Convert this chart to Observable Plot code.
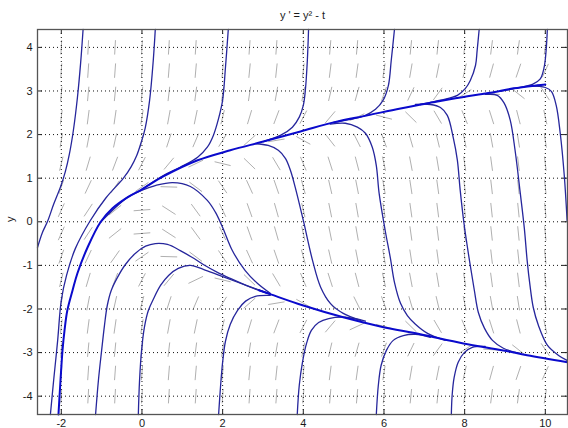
<!DOCTYPE html>
<html><head><meta charset="utf-8">
<script src="https://cdn.jsdelivr.net/npm/d3@7"></script>
<script src="https://cdn.jsdelivr.net/npm/@observablehq/plot@0.6"></script>
<style>body{margin:0;background:#fff}</style>
</head><body><div id="chart"></div>
<script>
// ---- axis / labels ----
const titleText = "y ' = y\u00B2 - t";
const yLabel = "y";
const xTicks = [-2, 0, 2, 4, 6, 8, 10];
const yTicks = [-4, -3, -2, -1, 0, 1, 2, 3, 4];
const xDomain = [-2.59, 10.55];
const yDomain = [-4.42, 4.41];

// ---- direction-field grid (t, y) ----
const fieldT = [-2, -1.333, -0.667, 0, 0.667, 1.333, 2, 2.667, 3.333, 4, 4.667, 5.333, 6, 6.667, 7.333, 8, 8.667, 9.333, 10];
const fieldY = [-4, -3.467, -2.933, -2.4, -1.867, -1.333, -0.8, -0.267, 0.267, 0.8, 1.333, 1.867, 2.4, 2.933, 3.467, 4];

// ---- solution curves, [t, y] ----
const curveA = [[-2.59,-0.59],[-2.47,-0.25],[-2.34,0.01],[-2.19,0.40],[-2.02,0.80],[-1.90,1.15],[-1.80,1.55],[-1.70,2.10],[-1.60,2.85],[-1.52,3.65],[-1.46,4.41]];
const curveB = [[0.33,4.41],[0.28,3.70],[0.19,2.79],[0.08,2.15],[-0.02,1.82],[-0.13,1.52],[-0.27,1.26],[-0.46,1.00],[-0.90,0.54],[-1.28,0.03],[-1.65,-0.61],[-1.87,-1.23],[-2.00,-1.80],[-2.09,-2.72],[-2.19,-3.64],[-2.27,-4.42]];
const upperBranch = [[-2.07,-4.42],[-2.02,-3.64],[-1.97,-2.95],[-1.92,-2.49],[-1.85,-2.03],[-1.72,-1.57],[-1.60,-1.18],[-1.35,-0.59],[-1.03,-0.01],[-0.73,0.31],[-0.36,0.56],[-0.01,0.74],[0.53,1.04],[1.38,1.41],[2.19,1.64],[3.01,1.84],[3.93,2.07],[4.75,2.28],[5.59,2.44],[6.41,2.60],[7.22,2.74],[8.07,2.88],[8.64,2.96],[9.21,3.06],[9.80,3.13],[10.0,3.15]];
const upTo228 = [[-0.01,0.74],[0.53,1.06],[0.95,1.25],[1.38,1.48],[1.62,1.71],[1.77,1.98],[1.90,2.37],[2.00,2.79],[2.07,3.54],[2.14,4.41]];
const upTo308 = [[3.01,1.84],[3.43,1.98],[3.73,2.17],[3.90,2.40],[4.00,2.67],[4.05,3.01],[4.10,3.70],[4.13,4.41]];
const upTo395 = [[4.75,2.28],[5.17,2.35],[5.49,2.42],[5.79,2.58],[5.98,2.79],[6.11,3.13],[6.18,3.70],[6.26,4.41]];
const upTo479 = [[6.90,2.69],[7.40,2.79],[7.82,2.90],[8.02,3.06],[8.14,3.24],[8.27,3.59],[8.31,3.93],[8.36,4.41]];
const upTo547 = [[8.88,2.99],[9.38,3.08],[9.68,3.15],[9.87,3.27],[9.97,3.54],[10.02,3.93],[10.05,4.41]];
const peakHigh = [[-1.03,-0.01],[-0.36,0.56],[-0.01,0.72],[0.33,0.83],[0.76,0.90],[1.20,0.81],[1.62,0.49],[1.82,0.22],[2.00,-0.13],[2.24,-0.66],[2.56,-1.12],[2.86,-1.41],[3.18,-1.64]];
const peakMid = [[-1.15,-4.42],[-1.08,-3.64],[-1.00,-2.95],[-0.93,-2.38],[-0.86,-1.92],[-0.76,-1.57],[-0.61,-1.28],[-0.41,-0.98],[-0.16,-0.72],[0.09,-0.56],[0.33,-0.50],[0.63,-0.52],[0.95,-0.66],[1.25,-0.82],[1.52,-0.98],[1.87,-1.16],[2.19,-1.30],[2.69,-1.50],[3.18,-1.66]];
const peakLow = [[-0.09,-4.42],[-0.06,-3.64],[-0.01,-2.95],[0.06,-2.42],[0.16,-2.03],[0.29,-1.76],[0.46,-1.46],[0.66,-1.23],[0.90,-1.07],[1.20,-1.00],[1.52,-1.09],[1.87,-1.21],[2.44,-1.41],[3.18,-1.66]];
const downFrom3 = [[2.81,1.79],[3.13,1.75],[3.38,1.64],[3.56,1.45],[3.68,1.18],[3.80,0.79],[4.00,0.03],[4.23,-0.89],[4.43,-1.50],[4.67,-1.87],[4.99,-2.10],[5.42,-2.26]];
const downFrom5 = [[4.67,2.24],[5.04,2.26],[5.34,2.17],[5.54,2.03],[5.71,1.71],[5.81,1.29],[5.88,0.65],[6.03,-0.20],[6.16,-0.84],[6.26,-1.39],[6.41,-1.87],[6.58,-2.15],[6.78,-2.35],[7.08,-2.56],[7.52,-2.72]];
const downFrom7 = [[6.78,2.69],[7.15,2.69],[7.40,2.62],[7.57,2.44],[7.72,1.92],[7.82,1.41],[7.89,0.72],[7.99,-0.08],[8.12,-0.89],[8.24,-1.57],[8.34,-2.08],[8.49,-2.44],[8.69,-2.72],[8.96,-2.90],[9.38,-3.02]];
const downFrom9 = [[8.51,2.92],[8.81,2.90],[8.98,2.72],[9.13,2.33],[9.25,1.64],[9.38,0.65],[9.48,-0.15],[9.55,-0.89],[9.62,-1.46],[9.70,-1.96],[9.83,-2.38],[10.05,-2.83],[10.32,-3.06],[10.54,-3.18]];
const downFrom10 = [[9.62,3.11],[10.00,3.08],[10.15,2.99],[10.27,2.67],[10.37,2.03],[10.47,1.06],[10.54,0.03]];
const riseFrom2 = [[1.90,-4.42],[1.95,-3.75],[2.00,-3.22],[2.07,-2.74],[2.19,-2.35],[2.37,-2.03],[2.57,-1.82],[2.81,-1.71],[3.18,-1.69]];
const riseFrom4 = [[3.85,-4.42],[3.90,-3.75],[3.98,-3.22],[4.08,-2.79],[4.20,-2.49],[4.38,-2.31],[4.63,-2.22],[5.04,-2.19],[5.54,-2.28]];
const riseFrom6 = [[5.81,-4.42],[5.86,-3.75],[5.93,-3.29],[6.06,-2.95],[6.23,-2.72],[6.48,-2.61],[6.78,-2.58],[7.15,-2.65]];
const riseFrom8 = [[7.67,-4.42],[7.69,-3.98],[7.74,-3.57],[7.84,-3.22],[7.99,-3.00],[8.19,-2.88],[8.51,-2.86]];
const lowerBranch = [[2.90,-1.57],[3.18,-1.66],[4.00,-1.92],[4.99,-2.19],[5.91,-2.40],[6.90,-2.58],[7.97,-2.79],[8.96,-2.95],[9.55,-3.06],[10.55,-3.22]];

const thinCurves = {curveA, curveB, upTo228, upTo308, upTo395, upTo479, upTo547, peakHigh, peakMid, peakLow,
  downFrom3, downFrom5, downFrom7, downFrom9, downFrom10, riseFrom2, riseFrom4, riseFrom6, riseFrom8};
const thickCurves = {upperBranch, lowerBranch};

const toRows = obj => Object.entries(obj).flatMap(([id, pts]) => pts.map(([t, y]) => ({id, t, y})));
const thinRows = toRows(thinCurves);
const thickRows = toRows(thickCurves);

// direction field: slope of y' = y^2 - t at each grid point, drawn as short centred segments
const dT = 2/3, dY = 8/15, segLen = 0.62;
const field = [];
for (const t of fieldT) for (const y of fieldY) {
  const s = y*y - t;
  const u = 1/dT, v = s/dY, n = Math.hypot(u, v);
  const ht = (segLen/2)*(u/n)*dT, hy = (segLen/2)*(v/n)*dY;
  field.push({x1: t-ht, y1: y-hy, x2: t+ht, y2: y+hy});
}

const chart = Plot.plot({
  width: 568, height: 428,
  marginLeft: 37, marginRight: 1, marginTop: 29, marginBottom: 14,
  style: {fontFamily: "'Liberation Sans', Arial, sans-serif", fontSize: "11px", color: "#1a1a1a", background: "#fff"},
  x: {domain: xDomain, ticks: xTicks, tickSize: 0, tickPadding: 5, tickFormat: d => String(d), label: null},
  y: {domain: yDomain, ticks: yTicks, tickSize: 0, tickPadding: 5, tickFormat: d => String(d), label: null},
  marks: [
    Plot.link(field, {x1: "x1", y1: "y1", x2: "x2", y2: "y2", stroke: "#b0b0b0", strokeWidth: 1}),
    Plot.ruleX(xTicks, {stroke: "#111", strokeDasharray: "1,3", strokeWidth: 1}),
    Plot.ruleY(yTicks, {stroke: "#111", strokeDasharray: "1,3", strokeWidth: 1}),
    Plot.ruleX(xTicks, {stroke: "#222", insetTop: 380}),
    Plot.ruleX(xTicks, {stroke: "#222", insetBottom: 380}),
    Plot.ruleY(yTicks, {stroke: "#222", insetRight: 525}),
    Plot.ruleY(yTicks, {stroke: "#222", insetLeft: 525}),
    Plot.line(thinRows, {x: "t", y: "y", z: "id", stroke: "#26269c", strokeWidth: 1.3, curve: "catmull-rom"}),
    Plot.line(thickRows, {x: "t", y: "y", z: "id", stroke: "#0a0acc", strokeWidth: 2, curve: "catmull-rom"}),
    Plot.frame({stroke: "#555", strokeWidth: 1.3}),
    Plot.text([titleText], {text: d => d, frameAnchor: "top", dy: -14, lineAnchor: "middle", fontSize: 11}),
    Plot.text([yLabel], {text: d => d, frameAnchor: "left", dx: -27, rotate: -90, lineAnchor: "middle", fontSize: 11})
  ]
});
document.getElementById("chart").appendChild(chart);
</script>
</body></html>
